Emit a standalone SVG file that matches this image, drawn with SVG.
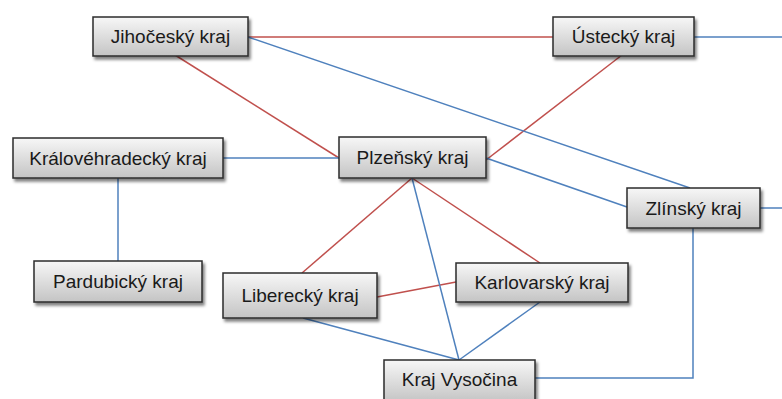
<svg xmlns="http://www.w3.org/2000/svg" width="782" height="399" viewBox="0 0 782 399">
<defs>
<linearGradient id="g" x1="0" y1="0" x2="0" y2="1">
<stop offset="0" stop-color="#f7f7f7"/>
<stop offset="1" stop-color="#c4c4c4"/>
</linearGradient>
<filter id="sh" x="-10%" y="-20%" width="130%" height="160%">
<feGaussianBlur in="SourceAlpha" stdDeviation="1.5"/>
<feOffset dx="2" dy="3" result="b"/>
<feComponentTransfer><feFuncA type="linear" slope="0.5"/></feComponentTransfer>
<feMerge><feMergeNode/><feMergeNode in="SourceGraphic"/></feMerge>
</filter>
<style>
.box{fill:url(#g);stroke:#2b2b2b;stroke-width:1.5;filter:url(#sh)}
.t{font-family:"Liberation Sans",Arial,sans-serif;font-size:19px;fill:#1a1a1a;text-anchor:middle}
.r{stroke:#c0504d;stroke-width:1.5;fill:none}
.b{stroke:#4f81bd;stroke-width:1.5;fill:none}
</style>
</defs>
<rect width="782" height="399" fill="#fff"/>
<g id="connectors">
<line class="r" x1="248" y1="37" x2="553" y2="37"/>
<line class="r" x1="175" y1="55" x2="339" y2="158"/>
<line class="r" x1="622" y1="55" x2="486" y2="160"/>
<line class="r" x1="412" y1="178" x2="302" y2="273"/>
<line class="r" x1="412" y1="178" x2="540" y2="263"/>
<line class="r" x1="377" y1="297" x2="456" y2="282"/>
<line class="b" x1="248" y1="37" x2="690" y2="188"/>
<line class="b" x1="694" y1="37" x2="782" y2="37"/>
<line class="b" x1="223" y1="158" x2="339" y2="158"/>
<line class="b" x1="118" y1="178" x2="118" y2="261"/>
<line class="b" x1="486" y1="158" x2="627" y2="207"/>
<line class="b" x1="412" y1="178" x2="459" y2="360"/>
<line class="b" x1="303" y1="318" x2="459" y2="360"/>
<line class="b" x1="540" y1="302" x2="459" y2="360"/>
<polyline class="b" points="693,228 693,378 535,378"/>
<line class="b" x1="760" y1="208" x2="782" y2="208"/>
</g>
<g id="jihocesky"><rect class="box" x="93" y="17" width="155" height="39"/><text class="t" x="170.5" y="43">Jihočeský kraj</text></g>
<g id="ustecky"><rect class="box" x="553" y="17" width="141" height="39"/><text class="t" x="623.5" y="43">Ústecký kraj</text></g>
<g id="kralovehradecky"><rect class="box" x="13" y="138" width="210" height="40"/><text class="t" x="118" y="165">Královéhradecký kraj</text></g>
<g id="plzensky"><rect class="box" x="339" y="137" width="147" height="41"/><text class="t" x="412.5" y="164">Plzeňský kraj</text></g>
<g id="zlinsky"><rect class="box" x="627" y="188" width="133" height="40"/><text class="t" x="693.5" y="215">Zlínský kraj</text></g>
<g id="pardubicky"><rect class="box" x="34" y="261" width="168" height="41"/><text class="t" x="118" y="288">Pardubický kraj</text></g>
<g id="liberecky"><rect class="box" x="223" y="273" width="154" height="45"/><text class="t" x="300" y="302">Liberecký kraj</text></g>
<g id="karlovarsky"><rect class="box" x="456" y="263" width="172" height="39"/><text class="t" x="542" y="289">Karlovarský kraj</text></g>
<g id="vysocina"><rect class="box" x="384" y="360" width="151" height="42"/><text class="t" x="459.5" y="386">Kraj Vysočina</text></g>
</svg>
